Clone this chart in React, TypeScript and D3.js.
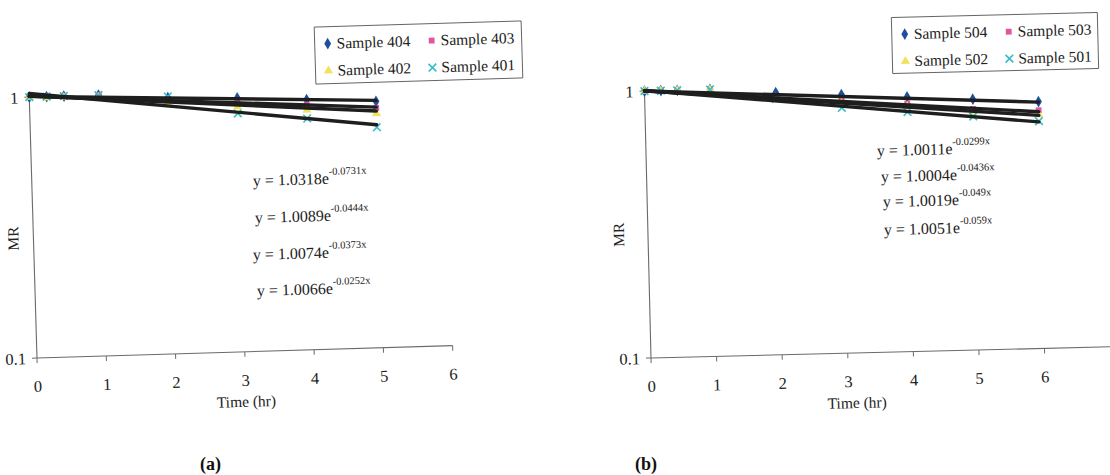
import React from 'react';
import * as d3 from 'd3';

// Moisture ratio vs time, two scanned panels (a) and (b), log y axis with exponential fits.

const FONT = 'Liberation Serif, Times New Roman, Times, DejaVu Serif, serif';

// ----- panel (a) -----
const TIME_A = [0, 0.25, 0.5, 1, 2, 3, 4, 5];
const MR_404 = [1, 1, 1, 1, 0.96, 0.94, 0.91, 0.88];
const MR_403 = [1, 1, 1, 1, 0.94, 0.9, 0.87, 0.83];
const MR_402 = [1, 0.99, 0.99, 0.98, 0.92, 0.87, 0.83, 0.79];
const MR_401 = [1, 1, 1, 1, 0.97, 0.82, 0.77, 0.7];
const FIT_A_COEF = [1.0318, 1.0089, 1.0074, 1.0066]; // 401, 402, 403, 404
const FIT_A_EXP = [-0.0731, -0.0444, -0.0373, -0.0252];
const X_TICKS_A = [0, 1, 2, 3, 4, 5, 6];

// ----- panel (b) -----
const TIME_B = [0, 0.25, 0.5, 1, 2, 3, 4, 5, 6];
const MR_504 = [1, 1, 1, 1, 0.96, 0.93, 0.9, 0.87, 0.84];
const MR_503 = [1, 1, 1, 1, 0.93, 0.89, 0.85, 0.8, 0.78];
const MR_502 = [1, 1, 1, 1, 0.92, 0.87, 0.83, 0.78, 0.75];
const MR_501 = [1, 1, 1, 1, 0.91, 0.83, 0.79, 0.75, 0.71];
const FIT_B_COEF = [1.0011, 1.0004, 1.0019, 1.0051]; // 504, 503, 502, 501
const FIT_B_EXP = [-0.0299, -0.0436, -0.049, -0.059];
const X_TICKS_B = [0, 1, 2, 3, 4, 5, 6];

const Y_TICKS = [0.1, 1];

const MARKERS = {
  diamond: { type: d3.symbolDiamond, size: 40, fill: '#1d4f9e' },
  square: { type: d3.symbolSquare, size: 34, fill: '#e2559f' },
  triangle: { type: d3.symbolTriangle, size: 36, fill: '#f0e35c' },
  cross: { type: d3.symbolTimes, size: 40, fill: '#35bccb' },
};

const seriesA = [
  { name: 'Sample 404', values: MR_404, marker: 'diamond', fit: 3 },
  { name: 'Sample 403', values: MR_403, marker: 'square', fit: 2 },
  { name: 'Sample 402', values: MR_402, marker: 'triangle', fit: 1 },
  { name: 'Sample 401', values: MR_401, marker: 'cross', fit: 0 },
];
const seriesB = [
  { name: 'Sample 504', values: MR_504, marker: 'diamond', fit: 0 },
  { name: 'Sample 503', values: MR_503, marker: 'square', fit: 1 },
  { name: 'Sample 502', values: MR_502, marker: 'triangle', fit: 2 },
  { name: 'Sample 501', values: MR_501, marker: 'cross', fit: 3 },
];

const txt = (size) => ({ fontFamily: FONT, fontSize: size });

function Marker({ kind, x, y }) {
  const m = MARKERS[kind];
  const d = d3.symbol().type(m.type).size(m.size)();
  if (kind === 'cross') {
    return <path d={d} transform={`translate(${x},${y})`} fill="none" stroke={m.fill} strokeWidth={1.6} />;
  }
  return <path d={d} transform={`translate(${x},${y})`} fill={m.fill} />;
}

function Legend({ x, y, w, h, angle, series }) {
  return (
    <g transform={`rotate(${-angle}, ${x + w / 2}, ${y + h / 2})`}>
      <rect x={x} y={y} width={w} height={h} fill="#fff" stroke="#555" strokeWidth={0.9} />
      {series.map((s, i) => {
        const col = i % 2;
        const row = Math.floor(i / 2);
        const mx = x + (col === 0 ? 13 : 117);
        const by = y + 22 + row * 27;
        return (
          <g key={s.name}>
            <Marker kind={s.marker} x={mx} y={by - 5} />
            <text x={mx + 9} y={by} style={txt(15.5)} fill="#222">
              {s.name}
            </text>
          </g>
        );
      })}
    </g>
  );
}

function Panel({ cfg }) {
  const { ox, oy, unit, xMax, height, angle, time, series, coef, expo, xTicks } = cfg;
  const x = d3.scaleLinear().domain([0, xMax]).range([0, xMax * unit]);
  const y = d3.scaleLog().domain([0.1, 1]).range([0, -height]);
  const lastT = time[time.length - 1];

  return (
    <g>
      <g transform={`translate(${ox},${oy}) rotate(${-angle})`}>
        {/* axes */}
        <line x1={0} x2={x(xMax)} y1={0} y2={0} stroke="#6a6a6a" strokeWidth={1.1} />
        <line x1={0} x2={0} y1={0} y2={y(1)} stroke="#6a6a6a" strokeWidth={1.1} />
        {xTicks.map((t) => (
          <g key={`xt-${t}`} transform={`translate(${x(t)},0)`}>
            <line y1={0} y2={5} stroke="#6a6a6a" />
            <text y={34} textAnchor="middle" style={txt(16.5)} fill="#222">
              {t}
            </text>
          </g>
        ))}
        {Y_TICKS.map((t) => (
          <g key={`yt-${t}`} transform={`translate(0,${y(t)})`}>
            <line x1={-5} x2={0} stroke="#6a6a6a" />
            <text x={-11} y={6} textAnchor="end" style={txt(16.5)} fill="#222">
              {t}
            </text>
          </g>
        ))}
        <text
          transform={`translate(${cfg.mrX},${cfg.mrY}) rotate(-90)`}
          textAnchor="middle"
          style={txt(15.5)}
          fill="#222"
        >
          MR
        </text>
        <text x={cfg.timeX} y={55} textAnchor="middle" style={txt(15.5)} fill="#222">
          Time (hr)
        </text>

        {/* markers */}
        {series.map((s) => (
          <g key={s.name}>
            {s.values.map((v, i) => (
              <Marker key={i} kind={s.marker} x={x(time[i])} y={y(v)} />
            ))}
          </g>
        ))}

        {/* exponential trend lines */}
        {series.map((s) => {
          const a = coef[s.fit];
          const b = expo[s.fit];
          return (
            <line
              key={`fit-${s.name}`}
              x1={x(0)}
              y1={y(a)}
              x2={x(lastT)}
              y2={y(a * Math.exp(b * lastT))}
              stroke="#1e1e1e"
              strokeWidth={3.4}
              strokeLinecap="round"
            />
          );
        })}
      </g>

      {/* fit equations */}
      {cfg.eqPos.map((p, i) => (
        <text
          key={`eq-${i}`}
          x={p[0]}
          y={p[1]}
          transform={`rotate(${-angle}, ${p[0]}, ${p[1]})`}
          style={txt(16)}
          fill="#222"
        >
          {`y = ${coef[i].toFixed(4)}e`}
          <tspan dy={-9} style={txt(10.5)}>{`${expo[i]}x`}</tspan>
        </text>
      ))}

      <Legend {...cfg.legend} angle={angle} series={series} />

      <text x={cfg.tag[0]} y={cfg.tag[1]} style={{ ...txt(18), fontWeight: 'bold' }} fill="#111">
        {cfg.tagText}
      </text>
    </g>
  );
}

const panelA = {
  ox: 37,
  oy: 358,
  unit: 69.3,
  xMax: 6,
  height: 261,
  angle: 1.7,
  time: TIME_A,
  series: seriesA,
  coef: FIT_A_COEF,
  expo: FIT_A_EXP,
  xTicks: X_TICKS_A,
  mrX: -15,
  mrY: -120,
  timeX: 208,
  eqPos: [
    [253, 186],
    [255, 223],
    [253, 260],
    [257, 296],
  ],
  legend: { x: 315, y: 24, w: 207, h: 57 },
  tag: [200, 470],
  tagText: '(a)',
};

const panelB = {
  ox: 651,
  oy: 358,
  unit: 65.6,
  xMax: 7,
  height: 267,
  angle: 1.4,
  time: TIME_B,
  series: seriesB,
  coef: FIT_B_COEF,
  expo: FIT_B_EXP,
  xTicks: X_TICKS_B,
  mrX: -24,
  mrY: -124,
  timeX: 205,
  eqPos: [
    [877, 156],
    [881, 182],
    [883, 207],
    [884, 235],
  ],
  legend: { x: 892, y: 15, w: 206, h: 56 },
  tag: [635, 470],
  tagText: '(b)',
};

export default function App() {
  return (
    <svg
      width={1110}
      height={475}
      viewBox="0 0 1110 475"
      style={{ position: 'absolute', left: 0, top: 0, background: '#fff' }}
    >
      <rect width={1110} height={475} fill="#fff" />
      <Panel cfg={panelA} />
      <Panel cfg={panelB} />
    </svg>
  );
}
